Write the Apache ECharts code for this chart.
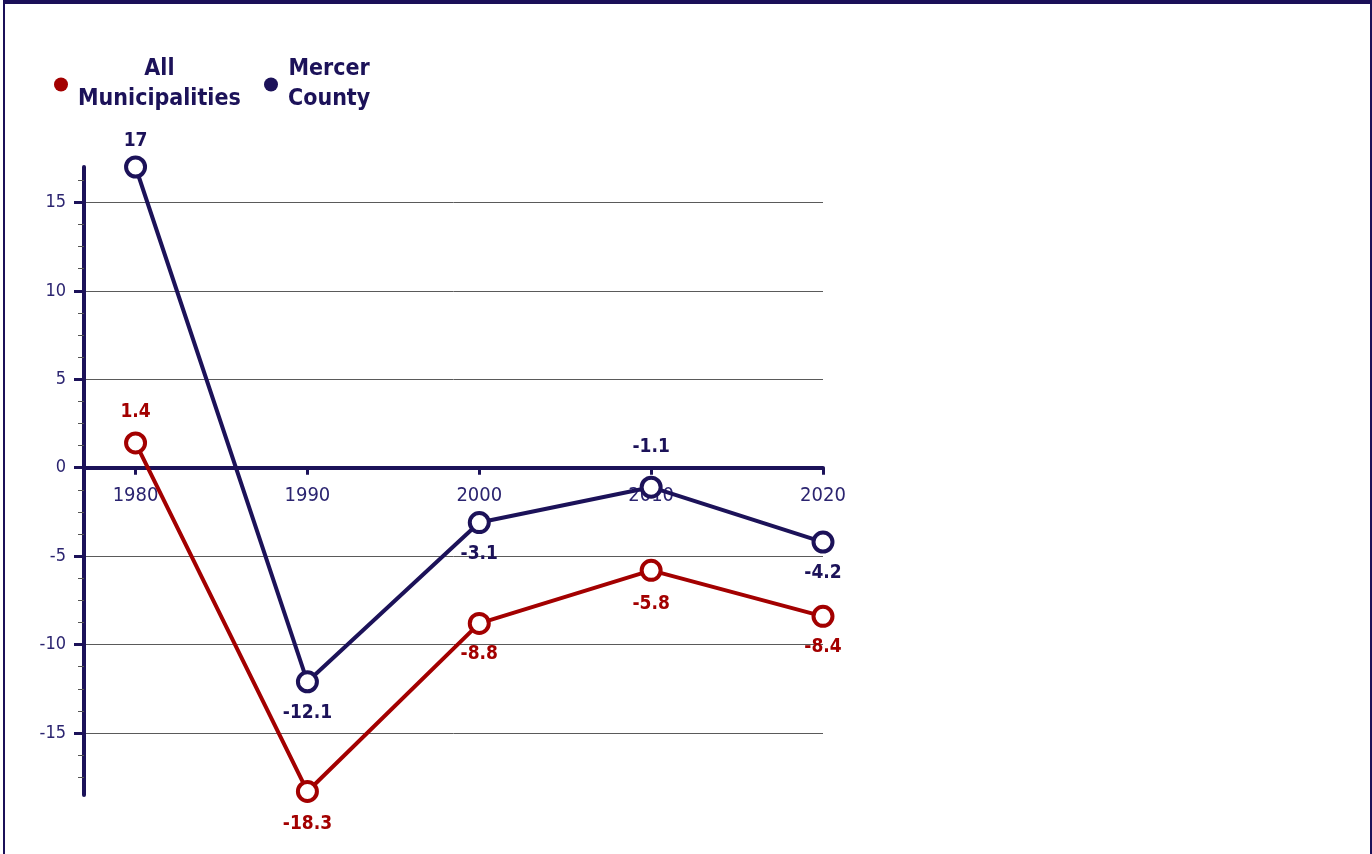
<!DOCTYPE html>
<html>
<head>
<meta charset="utf-8">
<title>Population change</title>
<script src="https://cdn.jsdelivr.net/npm/echarts@6/dist/echarts.min.js"></script>
<style>
  html, body { margin: 0; padding: 0; background: #fff; }
  #chart { position: absolute; left: 0; top: 0; width: 1372px; height: 854px; }
  #frame {
    position: absolute; left: 3px; top: 0; width: 1365px; height: 860px;
    border-top: 4px solid #1b1058; border-left: 2px solid #1b1058; border-right: 2px solid #1b1058;
    pointer-events: none;
  }
</style>
</head>
<body>
<div id="chart"></div>
<div id="frame"></div>
<script>
// Decade years and percent change per series
const years = [1980, 1990, 2000, 2010, 2020];
const allMunicipalities = [1.4, -18.3, -8.8, -5.8, -8.4];
const mercerCounty = [17, -12.1, -3.1, -1.1, -4.2];

// Which side of the point each value label sits on
const allLabelPos = ['top', 'bottom', 'bottom', 'bottom', 'bottom'];
const mercerLabelPos = ['top', 'bottom', 'bottom', 'top', 'bottom'];

// Axis ticks
const yMajorTicks = [-15, -10, -5, 0, 5, 10, 15];
const yMinorTicks = [16.25, 13.75, 12.5, 11.25, 8.75, 7.5, 6.25, 3.75, 2.5, 1.25,
  -1.25, -2.5, -3.75, -6.25, -7.5, -8.75, -11.25, -12.5, -13.75, -16.25, -17.5];
const xTicks = [1980, 1990, 2000, 2010, 2020];

const Y_MIN = -18.5, Y_MAX = 17;

const RED = '#a30000';
const NAVY = '#1c1259';
const AXIS_TEXT = '#2b2470';
const NARROW = '"Liberation Sans Narrow", "DejaVu Sans Condensed", "Roboto Condensed", "Arial Narrow", sans-serif';

// Label gap per point: the top value sits close under the frame,
// the 2010 county value is lifted clear of the zero axis.
const allLabelGap = [10, 12, 10, 13, 10];
const mercerLabelGap = [5, 10, 10, 19, 10];

function buildData(values, positions, gaps) {
  return values.map((v, i) => ({
    value: [years[i], v],
    label: { position: positions[i], distance: gaps[i] }
  }));
}

function legendAt(left, name, color) {
  return {
    left: left, top: 53,
    data: [{ name: name, itemStyle: { color: color, borderWidth: 0 } }],
    icon: 'circle',
    itemWidth: 24, itemHeight: 14,
    formatter: n => n.split(' ').map(w => '{c|' + w + '}').join('\n'),
    textStyle: {
      color: NAVY,
      rich: {
        c: { align: 'center', fontFamily: NARROW, fontWeight: 'bold', fontSize: 23, lineHeight: 30, color: NAVY }
      }
    }
  };
}

const chart = echarts.init(document.getElementById('chart'), null, { renderer: 'canvas' });

function seriesOf(name, values, positions, gaps, color, z) {
  return {
    name: name,
    type: 'line',
    data: buildData(values, positions, gaps),
    color: color,
    lineStyle: { color: color, width: 4 },
    symbol: 'circle', symbolSize: 19,
    itemStyle: { color: '#ffffff', borderColor: color, borderWidth: 4 },
    label: {
      show: true,
      formatter: p => p.value[1],
      color: color, fontFamily: NARROW, fontWeight: 'bold', fontSize: 19
    },
    z: z
  };
}

const option = {
  backgroundColor: '#ffffff',
  animation: false,
  legend: [legendAt(49, 'All Municipalities', RED), legendAt(259, 'Mercer County', NAVY)],
  grid: { left: 84, right: 549, top: 167, bottom: 59, containLabel: false },
  xAxis: {
    type: 'value',
    min: 1977, max: 2020,
    position: 'bottom',
    offset: 0,
    axisLine: { onZero: false, lineStyle: { color: NAVY, width: 4 } },
    axisTick: { customValues: xTicks, length: 7, lineStyle: { color: NAVY, width: 3 } },
    axisLabel: {
      customValues: xTicks, margin: 18,
      formatter: v => String(v),
      color: AXIS_TEXT, fontFamily: NARROW, fontSize: 20
    },
    splitLine: { show: false }
  },
  yAxis: [
    {
      type: 'value',
      min: Y_MIN, max: Y_MAX,
      axisLine: { show: true, onZero: false, lineStyle: { color: NAVY, width: 4 } },
      axisTick: { show: true, customValues: yMajorTicks, length: 10, lineStyle: { color: NAVY, width: 3 } },
      axisLabel: {
        customValues: yMajorTicks, margin: 18,
        color: AXIS_TEXT, fontFamily: NARROW, fontSize: 18
      },
      splitLine: { show: true, lineStyle: { color: '#5a5a5a', width: 1 } }
    },
    {
      type: 'value',
      min: Y_MIN, max: Y_MAX,
      position: 'left',
      axisLine: { show: false, onZero: false },
      axisTick: { show: true, customValues: yMinorTicks, length: 6, lineStyle: { color: '#555555', width: 1 } },
      axisLabel: { show: false },
      splitLine: { show: false }
    }
  ],
  series: [
    seriesOf('All Municipalities', allMunicipalities, allLabelPos, allLabelGap, RED, 2),
    seriesOf('Mercer County', mercerCounty, mercerLabelPos, mercerLabelGap, NAVY, 3)
  ]
};

chart.setOption(option);

// Lift the x axis from the grid bottom up to the zero line
const zeroY = chart.convertToPixel({ yAxisIndex: 0 }, 0);
const bottomY = chart.convertToPixel({ yAxisIndex: 0 }, Y_MIN);
chart.setOption({ xAxis: { offset: -(bottomY - zeroY) } });
</script>
</body>
</html>
